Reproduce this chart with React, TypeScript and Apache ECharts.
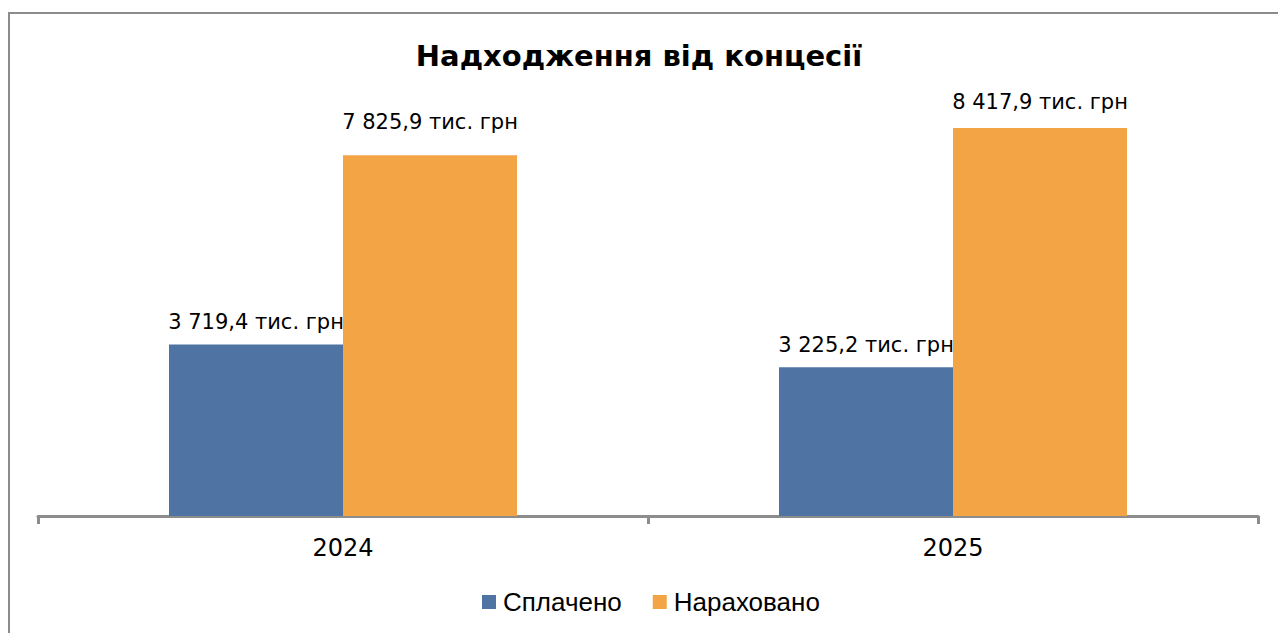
import React, { useEffect, useRef } from "react";
import * as echarts from "echarts";

const titleText = "Надходження від концесії";
const years = ["2024", "2025"];
const seriesNames = ["Сплачено", "Нараховано"];
const paid = [3719.4, 3225.2];
const accrued = [7825.9, 8417.9];
const unit = "тис. грн";

const BLUE = "#4F74A4";
const ORANGE = "#F3A546";

function fmt(v: number): string {
  const [i, d] = v.toFixed(1).split(".");
  const withSpaces = i.replace(/\B(?=(\d{3})+(?!\d))/g, " ");
  return `${withSpaces},${d} ${unit}`;
}

const baseLabel = {
  show: true,
  position: "top" as const,
  fontFamily: "DejaVu Sans",
  fontSize: 21,
  color: "#000",
  formatter: (p: any) => fmt(p.value),
};

export default function App() {
  const ref = useRef<HTMLDivElement>(null);
  useEffect(() => {
    if (!ref.current) return;
    const chart = echarts.init(ref.current, null, { renderer: "svg" });
    // label distances above bars, as placed in the original
    const paidDist = [12, 12];
    const accruedDist = [23, 15];
    chart.setOption({
      animation: false,
      backgroundColor: "#fff",
      title: {
        text: titleText,
        left: "center",
        top: 41,
        padding: 0,
        textStyle: {
          fontFamily: "DejaVu Sans",
          fontWeight: "bold",
          fontSize: 29,
          color: "#000",
        },
      },
      legend: {
        data: seriesNames,
        left: 482,
        top: 589,
        padding: 0,
        icon: "rect",
        itemWidth: 14,
        itemHeight: 14,
        itemGap: 31,
        textStyle: {
          fontFamily: "Liberation Sans",
          fontSize: 26,
          color: "#000",
          padding: [0, 0, 0, 2],
        },
      },
      grid: { left: 38, right: 20, top: 55, bottom: 117, containLabel: false },
      xAxis: {
        type: "category",
        data: years,
        boundaryGap: true,
        axisLine: { lineStyle: { color: "#8C8C8C", width: 3 } },
        axisTick: { show: true, length: 8, lineStyle: { color: "#8C8C8C", width: 3 } },
        axisLabel: {
          margin: 20,
          fontFamily: "DejaVu Sans",
          fontSize: 24,
          color: "#000",
        },
      },
      yAxis: {
        type: "value",
        min: 0,
        max: 10000,
        show: false,
        splitLine: { show: false },
      },
      series: [
        {
          name: seriesNames[0],
          type: "bar",
          data: paid.map((v, i) => ({ value: v, label: { distance: paidDist[i] } })),
          barWidth: 174,
          barGap: "0%",
          itemStyle: { color: BLUE },
          label: baseLabel,
          z: 2,
        },
        {
          name: seriesNames[1],
          type: "bar",
          data: accrued.map((v, i) => ({ value: v, label: { distance: accruedDist[i] } })),
          barWidth: 174,
          barGap: "0%",
          itemStyle: { color: ORANGE },
          label: baseLabel,
          z: 3,
        },
      ],
      graphic: [
        {
          type: "rect",
          shape: { x: 9, y: 13, width: 1300, height: 700 },
          style: { fill: "none", stroke: "#8C8C8C", lineWidth: 2 },
          silent: true,
          z: -1,
        },
      ],
    });
    return () => chart.dispose();
  }, []);
  return (
    <div
      ref={ref}
      style={{ position: "absolute", left: 0, top: 0, width: 1278, height: 633 }}
    />
  );
}
